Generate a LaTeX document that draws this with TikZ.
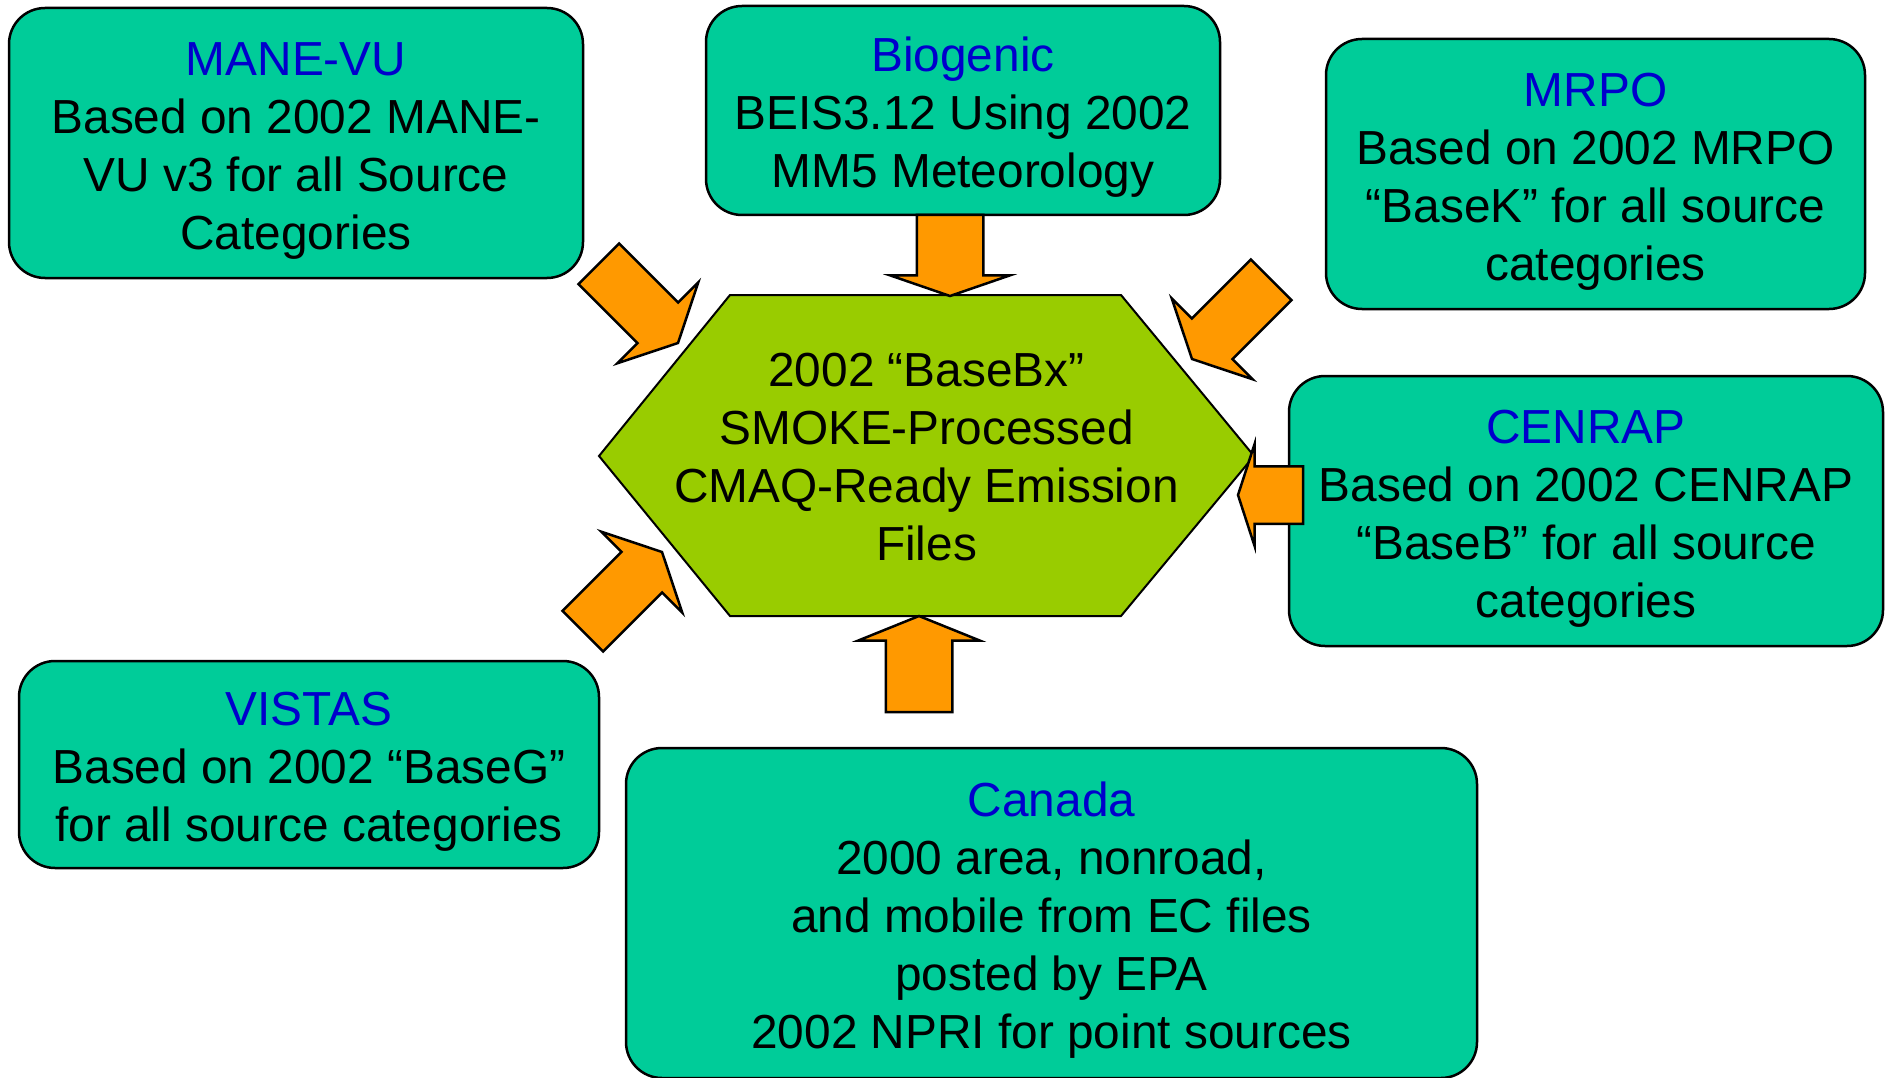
\documentclass[tikz,border=0pt]{standalone}
\usepackage{fontspec}
\setmainfont{Liberation Sans}
\usetikzlibrary{shapes.arrows}
\definecolor{regionteal}{HTML}{00CC99}
\definecolor{hubgreen}{HTML}{99CC00}
\definecolor{feedorange}{HTML}{FF9900}
\definecolor{titleblue}{HTML}{0000CC}
\newcommand{\regiontitle}[1]{\rule{0pt}{48pt}{\color{titleblue}#1}}

\begin{document}
\begin{tikzpicture}[x=1pt, y=-1pt]
	\tikzstyle{region} = [draw, line width=2.5pt, fill=regionteal, rectangle, rounded corners=36pt, align=center, inner sep=0pt, font={\fontsize{47.8}{58}\selectfont}]
	\tikzstyle{hubText} = [align=center, inner sep=0pt, font={\fontsize{47.8}{58}\selectfont}]
	\tikzstyle{hubEdge} = [draw, line width=2pt, fill=hubgreen, line join=miter];
	\tikzstyle{feed} = [single arrow, draw, line width=2.5pt, fill=feedorange, inner xsep=0pt, outer sep=0pt, anchor=tip, line join=miter];
	\tikzstyle{feedDiag} = [feed, minimum height=112, inner ysep=27.5, single arrow head extend=28.5, single arrow tip angle=127];
	\tikzstyle{feedTop} = [feed, minimum height=81, inner ysep=32, single arrow head extend=26.5, single arrow tip angle=142];
	\tikzstyle{feedBottom} = [feed, minimum height=96, inner ysep=32, single arrow head extend=27.5, single arrow tip angle=136];
	\tikzstyle{feedSide} = [feed, minimum height=65, inner ysep=27.5, single arrow head extend=22, single arrow tip angle=144];

	\useasboundingbox (0,0) rectangle (1890,1078);

	\node[region, minimum width=574, minimum height=270] (mane) at (296,143)
		{\regiontitle{MANE-VU}\\Based on 2002 MANE-\\VU v3 for all Source\\Categories};
	\node[region, minimum width=514, minimum height=209] (bio) at (963,110.5)
		{\regiontitle{Biogenic}\\BEIS3.12 Using 2002\\MM5 Meteorology};
	\node[region, minimum width=539, minimum height=270] (mrpo) at (1595.5,174)
		{\regiontitle{MRPO}\\Based on 2002 MRPO\\“BaseK” for all source\\categories};
	\node[region, minimum width=594, minimum height=270] (cenrap) at (1586,511)
		{\regiontitle{CENRAP}\\Based on 2002 CENRAP\\“BaseB” for all source\\categories};
	\node[region, minimum width=580, minimum height=207] (vistas) at (309,764.5)
		{\regiontitle{VISTAS}\\Based on 2002 “BaseG”\\for all source categories};
	\node[region, minimum width=851, minimum height=330] (canada) at (1051.5,913)
		{\regiontitle{Canada}\\2000 area, nonroad,\\and mobile from EC files\\posted by EPA\\2002 NPRI for point sources};

	\draw[hubEdge] (599,456) -- (730,295) -- (1121,295) -- (1254,456) -- (1121,616) -- (730,616) -- cycle;
	\node[hubText] (hub) at (926.5,457) {2002 “BaseBx”\\SMOKE-Processed\\CMAQ-Ready Emission\\Files};

	\node[feedDiag, rotate=-45] (fmane) at (678,343) {};
	\node[feedTop, rotate=-90] (fbio) at (950,296) {};
	\node[feedDiag, rotate=-135] (fmrpo) at (1192,359) {};
	\node[feedSide, rotate=180] (fcenrap) at (1238,495) {};
	\node[feedDiag, rotate=45] (fvistas) at (662,552) {};
	\node[feedBottom, rotate=90] (fcanada) at (919,616) {};
\end{tikzpicture}
\end{document}
